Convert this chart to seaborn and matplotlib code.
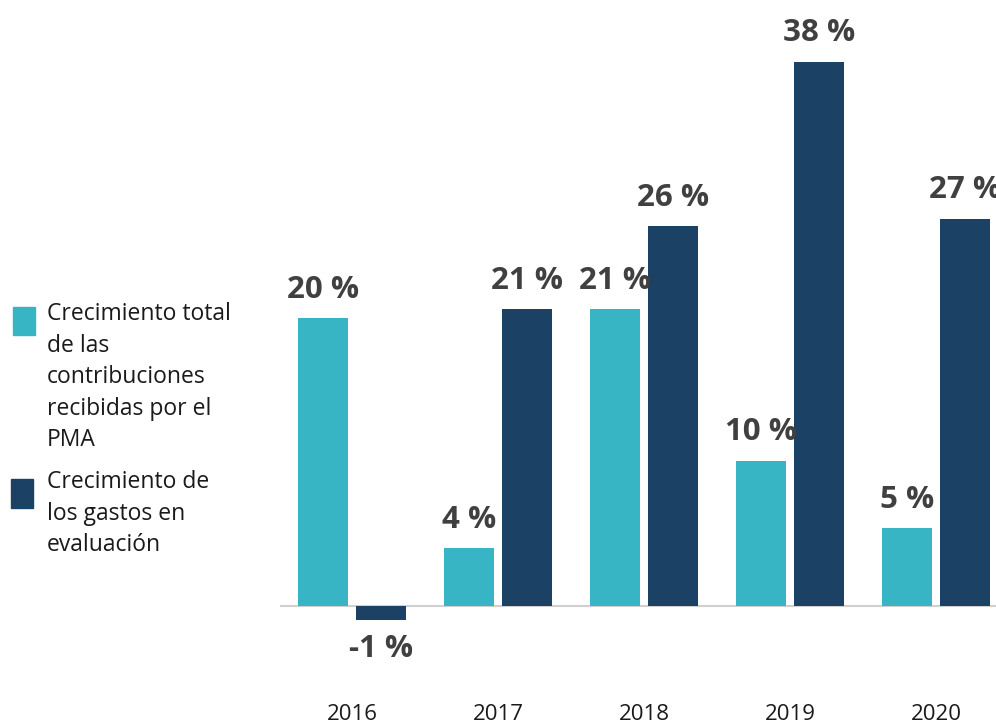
import matplotlib
matplotlib.use("Agg")
import matplotlib.pyplot as plt
from matplotlib.patches import Rectangle
import seaborn as sns
import pandas as pd

years = ["2016", "2017", "2018", "2019", "2020"]
series_names = [
    "Crecimiento total\nde las\ncontribuciones\nrecibidas por el\nPMA",
    "Crecimiento de\nlos gastos en\nevaluación",
]
contrib_growth = [20.0, 4.0, 20.6, 10.1, 5.4]
eval_growth = [-1.0, 20.6, 26.4, 37.8, 26.9]
contrib_labels = ["20 %", "4 %", "21 %", "10 %", "5 %"]
eval_labels = ["-1 %", "21 %", "26 %", "38 %", "27 %"]

LIGHT = "#37B5C5"
DARK = "#1B4264"
LABEL_COLOR = "#404040"

sns.set_theme(style="white")
plt.rcParams["font.family"] = ["Open Sans", "DejaVu Sans"]

df = pd.DataFrame({
    "year": years * 2,
    "series": [series_names[0]] * len(years) + [series_names[1]] * len(years),
    "value": contrib_growth + eval_growth,
})

W, H = 996, 725
fig = plt.figure(figsize=(W / 100, H / 100), dpi=100)
ax = fig.add_axes([280 / W, 1 - 690 / H, 716 / W, 690 / H])

sns.barplot(data=df, x="year", y="value", hue="series",
            palette=[LIGHT, DARK], width=0.8, gap=0.145,
            saturation=1, errorbar=None, legend=False, ax=ax, zorder=2,
            linewidth=0, edgecolor="none")

ax.axhline(0, color="#d0d0d0", lw=1.5, zorder=1)

for cont, labs in zip(ax.containers, [contrib_labels, eval_labels]):
    ax.bar_label(cont, labels=labs, padding=9.5, fontsize=22.5,
                 fontweight="bold", color=LABEL_COLOR)

ax.set_xlim(-0.493, 4.411)
ax.set_ylim(-(690 - 606) / 14.4, 606 / 14.4)
ax.set_xlabel("")
ax.set_ylabel("")
ax.set_yticks([])
ax.set_xticks(range(len(years)))
ax.set_xticklabels(years, fontsize=16, color="#1a1a1a")
ax.tick_params(axis="x", length=0, pad=10)
for s in ax.spines.values():
    s.set_visible(False)

# legend (manual, left side)
fig.patches.append(Rectangle((13 / W, 1 - 335 / H), 22 / W, 28 / H,
                             transform=fig.transFigure, color=LIGHT))
fig.patches.append(Rectangle((11 / W, 1 - 508 / H), 22 / W, 29 / H,
                             transform=fig.transFigure, color=DARK))
fig.text(47 / W, 1 - 302 / H, series_names[0], fontsize=16.5,
         va="top", ha="left", color="#1a1a1a", linespacing=1.42)
fig.text(47 / W, 1 - 470 / H, series_names[1], fontsize=16.5,
         va="top", ha="left", color="#1a1a1a", linespacing=1.42)

fig.savefig("out.png", dpi=100)
